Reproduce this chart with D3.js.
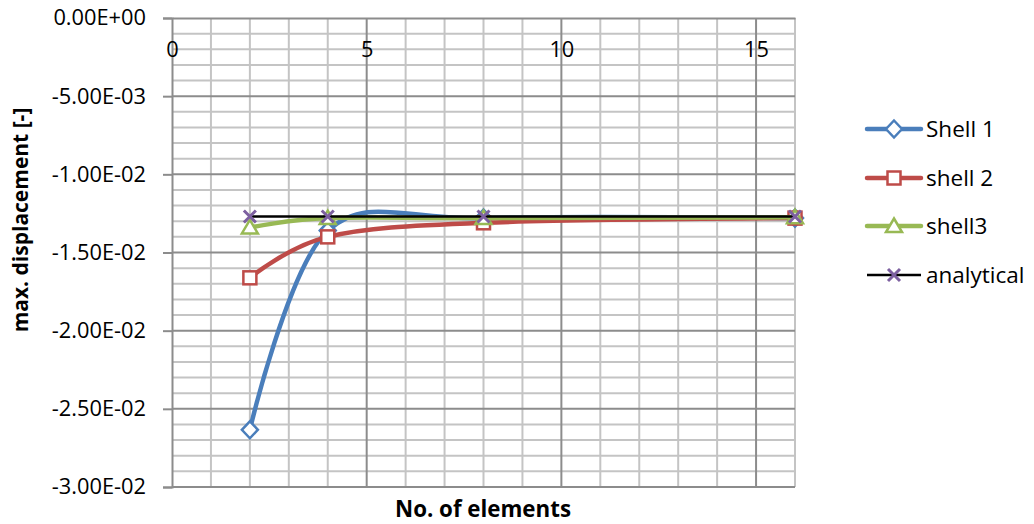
<!DOCTYPE html>
<html>
<head>
<meta charset="utf-8">
<script src="https://cdn.jsdelivr.net/npm/d3@7"></script>
<style>
  html, body { margin: 0; padding: 0; background: #fff; }
  svg { display: block; font-family: "Open Sans", sans-serif; }
</style>
</head>
<body>
<svg id="chart" width="1034" height="524"></svg>
<script>
// ---- data ----
const xValues = [2, 4, 8, 16];
const shell1 = [-0.02634, -0.01360, -0.01280, -0.01280];
const shell2 = [-0.01662, -0.01400, -0.01310, -0.01280];
const shell3 = [-0.01340, -0.01280, -0.01280, -0.01275];
const analytical = [-0.01270, -0.01270, -0.01270, -0.01270];
const seriesNames = ["Shell 1", "shell 2", "shell3", "analytical"];
const xTicks = [0, 5, 10, 15];
const yTicks = [0, -0.005, -0.01, -0.015, -0.02, -0.025, -0.03];
const xTitle = "No. of elements";
const yTitle = "max. displacement [-]";

const svg = d3.select("#chart");
const x = d3.scaleLinear().domain([0, 16]).range([172, 795]);
const y = d3.scaleLinear().domain([0, -0.03]).range([18, 487]);

const loc = d3.formatLocale({ decimal: ".", thousands: ",", grouping: [3], currency: ["", ""], minus: "-" });
function sci(v) {
  if (v === 0) return "0.00E+00";
  const s = loc.format(".2e")(v); // e.g. -5.00e-3
  const [m, e] = s.split("e");
  const sign = e[0] === "-" ? "-" : "+";
  const digits = e.replace(/[+-]/, "").padStart(2, "0");
  return m + "E" + sign + digits;
}

// minor grid
const g = svg.append("g");
const minorX = d3.range(1, 17).filter(d => d % 5 !== 0);
const minorY = d3.range(1, 31).map(d => -d * 0.001).filter((d, i) => (i + 1) % 5 !== 0);
g.selectAll(".mx").data(minorX).enter().append("line")
  .attr("x1", d => x(d)).attr("x2", d => x(d)).attr("y1", y(0)).attr("y2", y(-0.03))
  .attr("stroke", "#c4c4c4").attr("stroke-width", 2);
g.selectAll(".my").data(minorY).enter().append("line")
  .attr("x1", x(0)).attr("x2", x(16)).attr("y1", d => y(d)).attr("y2", d => y(d))
  .attr("stroke", "#c4c4c4").attr("stroke-width", 2);
// major grid
g.selectAll(".Mx").data([5, 10, 15]).enter().append("line")
  .attr("x1", d => x(d)).attr("x2", d => x(d)).attr("y1", y(0)).attr("y2", y(-0.03))
  .attr("stroke", "#8c8c8c").attr("stroke-width", 2);
g.selectAll(".My").data(yTicks.filter(d => d !== 0)).enter().append("line")
  .attr("x1", x(0)).attr("x2", x(16)).attr("y1", d => y(d)).attr("y2", d => y(d))
  .attr("stroke", "#8c8c8c").attr("stroke-width", 2);

// y axis
const yAxis = d3.axisLeft(y).tickValues(yTicks).tickFormat(sci).tickSize(9).tickPadding(17);
const ya = svg.append("g").attr("transform", `translate(${x(0)},0)`).call(yAxis);
ya.select(".domain").attr("stroke", "#8c8c8c").attr("stroke-width", 2);
ya.selectAll(".tick line").attr("stroke", "#8c8c8c").attr("stroke-width", 2);
ya.selectAll("text").attr("font-size", 21.8).attr("fill", "#000").attr("font-family", "Open Sans");

// x axis at y=0 (top), labels below
const xAxis = d3.axisBottom(x).tickValues(xTicks).tickSize(0).tickPadding(24);
const xa = svg.append("g").attr("transform", `translate(0,${y(0)})`).call(xAxis);
xa.select(".domain").attr("stroke", "#8c8c8c").attr("stroke-width", 2);
xa.selectAll("text").attr("font-size", 21.8).attr("fill", "#000").attr("font-family", "Open Sans");

// titles
svg.append("text").attr("x", 483).attr("y", 517).attr("text-anchor", "middle")
  .attr("font-size", 22.3).attr("font-weight", "bold").text(xTitle);
svg.append("text").attr("transform", "translate(28,220) rotate(-90)").attr("text-anchor", "middle")
  .attr("font-size", 21).attr("font-weight", "bold").text(yTitle);

// series
const series = [
  { name: seriesNames[0], vals: shell1, color: "#4a7ebb", width: 4.5, marker: "diamond" },
  { name: seriesNames[1], vals: shell2, color: "#be4b48", width: 4.5, marker: "square" },
  { name: seriesNames[2], vals: shell3, color: "#98b954", width: 4.5, marker: "triangle" },
  { name: seriesNames[3], vals: analytical, color: "#000000", width: 2.5, marker: "x", mcolor: "#7d60a0" }
];

const line = d3.line().x(d => x(d[0])).y(d => y(d[1])).curve(d3.curveCardinal.tension(0));
const lineStraight = d3.line().x(d => x(d[0])).y(d => y(d[1]));

function drawMarker(sel, type, color, mcolor) {
  if (type === "diamond") {
    sel.append("path").attr("d", "M0,-8.5L8,0L0,8.5L-8,0Z")
      .attr("fill", "#fff").attr("stroke", color).attr("stroke-width", 2.5);
  } else if (type === "square") {
    sel.append("rect").attr("x", -6.5).attr("y", -6.5).attr("width", 13).attr("height", 13)
      .attr("fill", "#fff").attr("stroke", color).attr("stroke-width", 2.5);
  } else if (type === "triangle") {
    sel.append("path").attr("d", "M0,-7.5L8,6L-8,6Z")
      .attr("fill", "#fff").attr("stroke", color).attr("stroke-width", 2.5);
  } else if (type === "x") {
    sel.append("path").attr("d", "M-6,-6L6,6M-6,6L6,-6")
      .attr("stroke", mcolor).attr("stroke-width", 3);
  }
}

series.forEach(s => {
  const pts = xValues.map((xv, i) => [xv, s.vals[i]]);
  svg.append("path").attr("d", (s.marker === "x" ? lineStraight : line)(pts))
    .attr("fill", "none").attr("stroke", s.color).attr("stroke-width", s.width)
    .attr("stroke-linecap", "round").attr("stroke-linejoin", "round");
  pts.forEach(p => {
    const m = svg.append("g").attr("transform", `translate(${x(p[0])},${y(p[1])})`);
    drawMarker(m, s.marker, s.color, s.mcolor);
  });
});

// legend
const legendY = [129, 178, 226, 275];
series.forEach((s, i) => {
  const ly = legendY[i];
  svg.append("line").attr("x1", 867).attr("x2", 921).attr("y1", ly).attr("y2", ly)
    .attr("stroke", s.color).attr("stroke-width", s.width).attr("stroke-linecap", s.marker === "x" ? "butt" : "round");
  const m = svg.append("g").attr("transform", `translate(894,${ly})`);
  drawMarker(m, s.marker, s.color, s.mcolor);
  svg.append("text").attr("x", 926).attr("y", ly).attr("dy", "0.35em")
    .attr("font-size", 22.5).attr("fill", "#000").text(s.name);
});
</script>
</body>
</html>
